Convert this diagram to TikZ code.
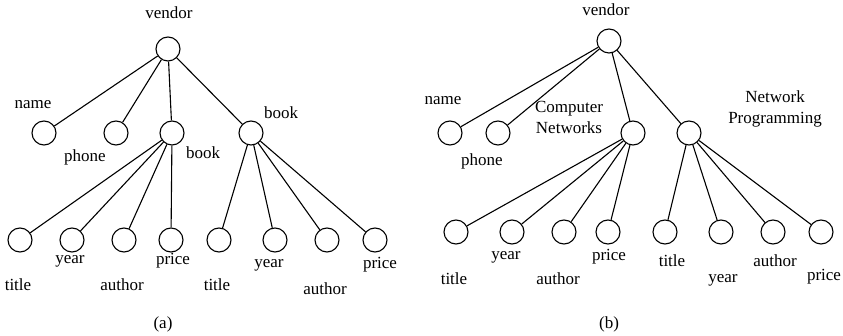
\documentclass[tikz,border=0pt]{standalone}
\usepackage{fontspec}
\setmainfont{Liberation Serif}
\usetikzlibrary{positioning}

\begin{document}
\begin{tikzpicture}[
    x=1pt, y=-1pt,
    vertex/.style={circle, draw, line width=1.1pt, minimum size=24pt, inner sep=0pt},
    edge/.style={line width=1.1pt},
    tag/.style={font=\fontsize{17}{21}\selectfont, inner sep=0pt, align=center}
]
\useasboundingbox (0,0) rectangle (843,336);

% Tree (a): one node per book
\node[vertex] (va) at (168,49) {};
\node[tag] (va-t) at (169,13) {vendor};
\node[vertex] (na) at (44,133) {};
\node[tag] (na-t) at (33,105) {name};
\node[vertex] (pa) at (116,133) {};
\node[tag] (pa-t) at (85,157) {phone};
\node[vertex] (ba) at (172,133) {};
\node[tag] (ba-t) at (203,153) {book};
\node[vertex] (ca) at (251,133) {};
\node[tag] (ca-t) at (281,113) {book};

\foreach \n in {na,pa,ba,ca}
    \draw[edge] (va) -- (\n);

% leaves of the first book
\foreach \i/\x/\lx/\ly/\txt in {1/20/18/285/title, 2/72/70/261/year, 3/124/122/285/author, 4/171/173/261/price}{
    \node[vertex] (ba\i) at (\x,240) {};
    \node[tag] (ba\i-t) at (\lx,\ly) {\txt};
    \draw[edge] (ba) -- (ba\i);
}
% leaves of the second book
\foreach \i/\x/\lx/\ly/\txt in {1/219/217/285/title, 2/275/269/265/year, 3/327/325/289/author, 4/375/380/265/price}{
    \node[vertex] (ca\i) at (\x,240) {};
    \node[tag] (ca\i-t) at (\lx,\ly) {\txt};
    \draw[edge] (ca) -- (ca\i);
}
\node[tag] (capa) at (163,324) {(a)};

% Tree (b): books named by title
\node[vertex] (vb) at (609,41) {};
\node[tag] (vb-t) at (606,10) {vendor};
\node[vertex] (nb) at (450,133) {};
\node[tag] (nb-t) at (443,101) {name};
\node[vertex] (pb) at (498,133) {};
\node[tag] (pb-t) at (482,161) {phone};
\node[vertex] (bb) at (633,133) {};
\node[tag] (bb-t) at (569,117) {Computer\\Networks};
\node[vertex] (cb) at (689,133) {};
\node[tag] (cb-t) at (775,109) {Network\\Programming};

\foreach \n in {nb,pb,bb,cb}
    \draw[edge] (vb) -- (\n);

\foreach \i/\x/\lx/\ly/\txt in {1/456/454/279/title, 2/512/506/257/year, 3/564/558/279/author, 4/608/609/257/price}{
    \node[vertex] (bb\i) at (\x,232) {};
    \node[tag] (bb\i-t) at (\lx,\ly) {\txt};
    \draw[edge] (bb) -- (bb\i);
}
\foreach \i/\x/\lx/\ly/\txt in {1/665/672/261/title, 2/721/723/280/year, 3/773/775/261/author, 4/821/824/277/price}{
    \node[vertex] (cb\i) at (\x,232) {};
    \node[tag] (cb\i-t) at (\lx,\ly) {\txt};
    \draw[edge] (cb) -- (cb\i);
}
\node[tag] (capb) at (609,324) {(b)};

\end{tikzpicture}
\end{document}
